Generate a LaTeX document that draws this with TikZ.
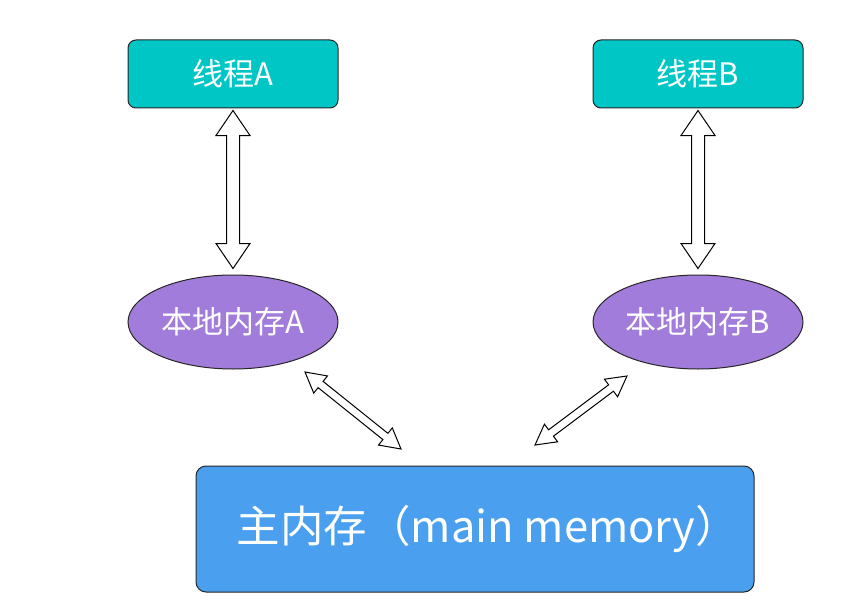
\documentclass[tikz,border=0pt]{standalone}
\usepackage{fontspec}
\setmainfont{Noto Sans CJK SC}
\usetikzlibrary{calc,shapes.geometric}
\definecolor{teal}{RGB}{0,198,198}
\definecolor{purp}{RGB}{162,124,218}
\definecolor{blu}{RGB}{74,159,238}
\tikzset{
  thread/.style={draw=black!85, line width=1pt, fill=teal, rounded corners=8pt,
    minimum width=210pt, minimum height=68pt, text=white, font=\fontsize{31}{34}\selectfont},
  local/.style={draw=black!85, line width=1pt, fill=purp, ellipse,
    minimum width=210pt, minimum height=94pt, text=white, inner sep=0pt, font=\fontsize{31}{34}\selectfont},
  mainmem/.style={draw=black!85, line width=1pt, fill=blu, rounded corners=10pt,
    minimum width=558pt, minimum height=126pt, text=white, font=\fontsize{43.5}{46}\selectfont},
  blk/.style={draw=black, line width=1pt, fill=white, line join=miter}
}
% #1 start, #2 end, #3 shaft half width, #4 head half width, #5 head length
\newcommand\blockarrowAB[5]{%
  \draw[blk] (#1)
   -- ($($(#1)!#5!(#2)$)!#4!90:(#2)$)
   -- ($($(#1)!#5!(#2)$)!#3!90:(#2)$)
   -- ($($(#2)!#5!(#1)$)!#3!-90:(#1)$)
   -- ($($(#2)!#5!(#1)$)!#4!-90:(#1)$)
   -- (#2)
   -- ($($(#2)!#5!(#1)$)!#4!90:(#1)$)
   -- ($($(#2)!#5!(#1)$)!#3!90:(#1)$)
   -- ($($(#1)!#5!(#2)$)!#3!-90:(#2)$)
   -- ($($(#1)!#5!(#2)$)!#4!-90:(#2)$)
   -- cycle;}
\begin{document}
\begin{tikzpicture}[x=1pt,y=-1pt]
\useasboundingbox[fill=white] (0,0) rectangle (866,607);
\node[thread] (tA) at (233,74) {线程A};
\node[thread] (tB) at (698,74) {线程B};
\node[local] (mA) at (233,322) {本地内存A};
\node[local] (mB) at (698,322) {本地内存B};
\node[mainmem] (mm) at (475,529) {\raisebox{-2pt}{\hspace*{26pt}主内存（main memory）}};
\coordinate (a1) at ($(tA.south)+(0,2)$);
\coordinate (a2) at ($(mA.north)+(0,-6)$);
\coordinate (b1) at ($(tB.south)+(0,2)$);
\coordinate (b2) at ($(mB.north)+(0,-6)$);
\coordinate (c1) at (305,372);
\coordinate (c2) at (401,449);
\coordinate (d1) at (627,376);
\coordinate (d2) at (535,445);
\blockarrowAB{a1}{a2}{6.5pt}{17pt}{25pt}
\blockarrowAB{b1}{b2}{6.5pt}{17pt}{25pt}
\blockarrowAB{c1}{c2}{4pt}{11pt}{20pt}
\blockarrowAB{d1}{d2}{4pt}{11pt}{20pt}
\end{tikzpicture}
\end{document}
